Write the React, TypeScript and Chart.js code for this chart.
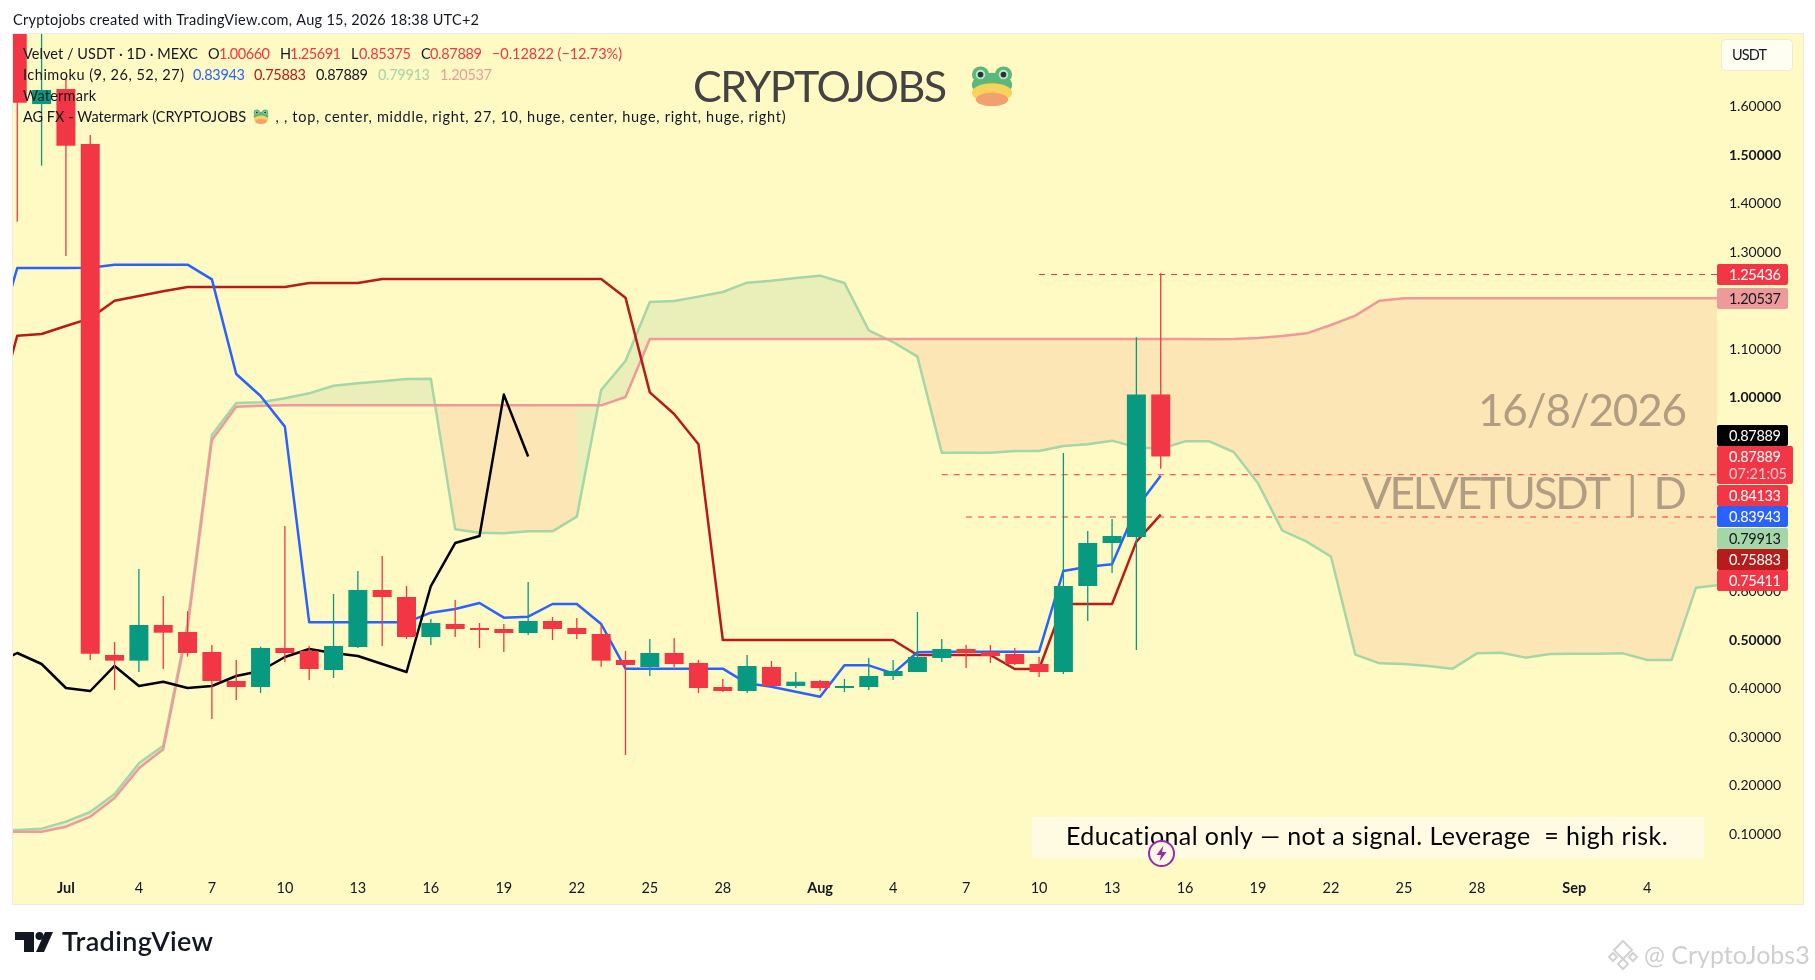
import React, { useEffect, useRef } from "react";
import { Chart, registerables } from "chart.js";

Chart.register(...registerables);

// ---------- data ----------
const CANDLE_START = -2; // day index relative to Jul 1
const opens = [1.95, 1.606, 1.637, 1.5236, 0.4694, 0.4577, 0.5313, 0.5168, 0.4756, 0.4157, 0.4034, 0.4838, 0.4776, 0.4384, 0.4859, 0.6035, 0.589, 0.5065, 0.5333, 0.5251, 0.523, 0.5147, 0.5395, 0.5251, 0.5127, 0.459, 0.4446, 0.4735, 0.4529, 0.4034, 0.3951, 0.4446, 0.4054, 0.4157, 0.4013, 0.4034, 0.426, 0.4343, 0.4632, 0.4817, 0.4756, 0.4714, 0.4508, 0.4343, 0.6117, 0.7004, 0.7128, 1.0066];
const highs = [2.0, 1.95, 1.6577, 1.5422, 0.4962, 0.6468, 0.5911, 0.5601, 0.49, 0.4591, 0.4866, 0.7355, 0.488, 0.5952, 0.6427, 0.6736, 0.6117, 0.5436, 0.5828, 0.5354, 0.5333, 0.62, 0.5478, 0.5457, 0.5313, 0.4776, 0.5024, 0.5044, 0.4591, 0.4199, 0.4694, 0.457, 0.4343, 0.4178, 0.4199, 0.4632, 0.4591, 0.5581, 0.5024, 0.49, 0.49, 0.4838, 0.4652, 0.8861, 0.7252, 0.7499, 1.1248, 1.25691];
const lows = [1.3633, 1.4789, 1.2925, 0.459, 0.3971, 0.4343, 0.4405, 0.4659, 0.3373, 0.3765, 0.391, 0.4549, 0.4178, 0.4219, 0.4838, 0.488, 0.5024, 0.49, 0.5065, 0.4838, 0.4756, 0.5106, 0.5003, 0.5024, 0.4453, 0.2631, 0.426, 0.4446, 0.391, 0.393, 0.391, 0.4054, 0.4013, 0.3951, 0.393, 0.3971, 0.4178, 0.4343, 0.4549, 0.4425, 0.4529, 0.4487, 0.424, 0.4302, 0.5395, 0.6385, 0.4797, 0.85375];
const closes = [1.6088, 1.635, 1.5201, 0.472, 0.4577, 0.5313, 0.5154, 0.4735, 0.4157, 0.4034, 0.4838, 0.4735, 0.4405, 0.488, 0.6035, 0.589, 0.5065, 0.5354, 0.523, 0.521, 0.5147, 0.5395, 0.523, 0.5127, 0.4577, 0.4487, 0.4735, 0.4508, 0.4013, 0.3951, 0.4467, 0.4054, 0.4143, 0.4013, 0.4054, 0.426, 0.4364, 0.4652, 0.4817, 0.4735, 0.4673, 0.4508, 0.4343, 0.6117, 0.7004, 0.7149, 1.0066, 0.87889];

const LINE_START = -3;
const tenkan = [1.095, 1.2678, 1.2678, 1.2678, 1.2685, 1.2747, 1.2747, 1.2747, 1.2747, 1.2444, 1.0491, 1.0037, 0.9405, 0.5368, 0.5368, 0.5368, 0.5368, 0.5368, 0.5567, 0.5643, 0.5766, 0.5464, 0.5485, 0.5746, 0.5746, 0.5333, 0.4412, 0.4412, 0.4412, 0.4412, 0.4412, 0.4109, 0.404, 0.3937, 0.3834, 0.448, 0.448, 0.4315, 0.4749, 0.4763, 0.4763, 0.4763, 0.4763, 0.4763, 0.6427, 0.6516, 0.6564, 0.7726, 0.83943];
const kijun = [0.944, 1.1282, 1.1316, 1.1481, 1.1639, 1.2004, 1.21, 1.2197, 1.2286, 1.2286, 1.2286, 1.2286, 1.2286, 1.2368, 1.2368, 1.2368, 1.2451, 1.2451, 1.2451, 1.2451, 1.2451, 1.2451, 1.2451, 1.2451, 1.2451, 1.2451, 1.2066, 1.0113, 0.9666, 0.904, 0.5003, 0.5003, 0.5003, 0.5003, 0.5003, 0.5003, 0.5003, 0.5003, 0.4694, 0.4694, 0.4694, 0.4694, 0.4405, 0.4405, 0.5746, 0.5746, 0.5746, 0.7032, 0.75883];
const chikou = [0.4487, 0.4735, 0.4508, 0.4013, 0.3951, 0.4467, 0.4054, 0.4143, 0.4013, 0.4054, 0.426, 0.4364, 0.4652, 0.4817, 0.4735, 0.4673, 0.4508, 0.4343, 0.6117, 0.7004, 0.7149, 1.0066, 0.87889];
const senkouA = [0.107, 0.1083, 0.1111, 0.1255, 0.1454, 0.1826, 0.2459, 0.2823, 0.535, 0.9233, 0.9893, 0.9907, 0.9989, 1.0092, 1.025, 1.0299, 1.034, 1.0388, 1.0395, 0.7286, 0.7217, 0.7204, 0.7245, 0.7245, 0.7548, 1.0161, 1.0759, 1.1977, 1.1997, 1.2087, 1.2183, 1.2375, 1.2417, 1.2472, 1.252, 1.2368, 1.1392, 1.1151, 1.0849, 0.8868, 0.8868, 0.8868, 0.8903, 0.8903, 0.9006, 0.904, 0.9116, 0.8978, 0.895, 0.9102, 0.9102, 0.8882, 0.8235, 0.7259, 0.7032, 0.6722, 0.4701, 0.4522, 0.4508, 0.4467, 0.4412, 0.4728, 0.4742, 0.4639, 0.4714, 0.4721, 0.4721, 0.4728, 0.4591, 0.4591, 0.6083, 0.6138];
const senkouB = [0.104, 0.1049, 0.1049, 0.1151, 0.1358, 0.1743, 0.2355, 0.2747, 0.525, 0.9129, 0.9817, 0.9838, 0.9845, 0.9845, 0.9845, 0.9845, 0.9845, 0.9845, 0.9845, 0.9845, 0.9845, 0.9845, 0.9845, 0.9845, 0.9845, 0.9845, 1.0017, 1.1213, 1.1213, 1.1213, 1.1213, 1.1213, 1.1213, 1.1213, 1.1213, 1.1213, 1.1213, 1.1213, 1.1213, 1.1213, 1.1213, 1.1213, 1.1213, 1.1213, 1.1213, 1.1213, 1.1213, 1.1213, 1.1213, 1.1213, 1.1206, 1.1213, 1.1234, 1.1275, 1.133, 1.1502, 1.1695, 1.2004, 1.20537, 1.20537, 1.20537, 1.20537, 1.20537, 1.20537, 1.20537, 1.20537, 1.20537, 1.20537, 1.20537, 1.20537, 1.20537, 1.20537];

const dashLevels = [1.25436, 0.84133, 0.75411];
const dashStartDays = [40, 36, 37];
const DASH_END = 68;

const xTickDays = [0, 3, 6, 9, 12, 15, 18, 21, 24, 27, 31, 34, 37, 40, 43, 46, 49, 52, 55, 58, 62, 65];
const xTickLabels = ["Jul", "4", "7", "10", "13", "16", "19", "22", "25", "28", "Aug", "4", "7", "10", "13", "16", "19", "22", "25", "28", "Sep", "4"];
const xBoldLabels = ["Jul", "Aug", "Sep"];
const yTickValues = [0.1, 0.2, 0.3, 0.4, 0.5, 0.6, 0.7, 0.8, 0.9, 1.0, 1.1, 1.2, 1.3, 1.4, 1.5, 1.6];
const yBoldValues = [0.5, 1.0, 1.5];

const tagTexts = ["1.25436", "1.20537", "0.87889", "0.84133", "0.83943", "0.79913", "0.75883", "0.75411"];
const tagBackgrounds = ["#F23645", "#EF9A9A", "#000000", "#F23645", "#2962FF", "#A5D6A7", "#B71C1C", "#F23645"];
const tagForegrounds = ["#FFFFFF", "#131722", "#FFFFFF", "#FFFFFF", "#FFFFFF", "#131722", "#FFFFFF", "#FFFFFF"];
const tagTops = [264, 288, 425, 485, 506, 528, 549, 570];

// ---------- style ----------
const UP = "#089981";
const DOWN = "#F23645";
const PAGE_BG = "#FFF9C4";
const FILL_UP = "#EAEFBA";
const FILL_DOWN = "#FDE6B5";
const FONT = "Lato, sans-serif";
const LEFT = 13;
const RIGHT = 1803;
const TOP = 34;
const BOTTOM = 904;

const pts = (arr: number[], start: number) => arr.map((y, i) => ({ x: start + i, y }));

function drawFrog(ctx: CanvasRenderingContext2D, cx: number, cy: number, s: number) {
  ctx.save();
  ctx.translate(cx, cy);
  ctx.scale(s / 46, s / 46);
  ctx.fillStyle = "#5CB87A";
  ctx.beginPath();
  ctx.ellipse(-12, -13, 9, 8.5, 0, 0, Math.PI * 2);
  ctx.ellipse(12, -13, 9, 8.5, 0, 0, Math.PI * 2);
  ctx.fill();
  ctx.beginPath();
  ctx.ellipse(0, -2, 21, 13, 0, 0, Math.PI * 2);
  ctx.fill();
  ctx.fillStyle = "#F7D35B";
  ctx.beginPath();
  ctx.ellipse(0, 6, 21, 10, 0, 0, Math.PI * 2);
  ctx.fill();
  ctx.fillStyle = "#F2A070";
  ctx.beginPath();
  ctx.ellipse(0, 13, 17, 7, 0, 0, Math.PI * 2);
  ctx.fill();
  ctx.fillStyle = "#BFE8C4";
  ctx.beginPath();
  ctx.arc(-12, -13, 5, 0, Math.PI * 2);
  ctx.arc(12, -13, 5, 0, Math.PI * 2);
  ctx.fill();
  ctx.fillStyle = "#26323A";
  ctx.beginPath();
  ctx.arc(-12, -13, 3, 0, Math.PI * 2);
  ctx.arc(12, -13, 3, 0, Math.PI * 2);
  ctx.fill();
  ctx.restore();
}

// draws one string; when a target width is given the letter spacing is set so the string spans it
function text(ctx: CanvasRenderingContext2D, t: string, x: number, y: number, font: string, color: string, width?: number, base: CanvasTextBaseline = "middle") {
  ctx.font = font;
  ctx.fillStyle = color;
  ctx.textAlign = "left";
  ctx.textBaseline = base;
  (ctx as any).letterSpacing = "0px";
  if (width) {
    const m = ctx.measureText(t).width;
    (ctx as any).letterSpacing = `${(width - m) / (t.length - 1)}px`;
  }
  ctx.fillText(t, x, y);
  (ctx as any).letterSpacing = "0px";
}

const backdrop = {
  id: "backdrop",
  beforeDraw(chart: any) {
    const c = chart.ctx as CanvasRenderingContext2D;
    c.save();
    c.fillStyle = "#FFFFFF";
    c.fillRect(0, 0, chart.width, chart.height);
    c.fillStyle = PAGE_BG;
    c.fillRect(LEFT, TOP, RIGHT - LEFT, BOTTOM - TOP);
    c.strokeStyle = "#ECECE4";
    c.lineWidth = 1;
    c.strokeRect(LEFT - 0.5, TOP - 0.5, RIGHT - LEFT + 1, BOTTOM - TOP + 1);
    c.restore();
  },
};

const overlay = {
  id: "overlay",
  afterDraw(chart: any) {
    const c = chart.ctx as CanvasRenderingContext2D;
    c.save();
    const f = `14.5px ${FONT}`;
    const dark = "#131722";
    text(c, "Cryptojobs created with TradingView.com, Aug 15, 2026 18:38 UTC+2", 13, 20, f, dark, 466);

    // legend
    const red = "#F23645";
    text(c, "Velvet / USDT · 1D · MEXC", 23, 54, f, dark, 175);
    text(c, "O", 208, 54, f, dark);
    text(c, "1.00660", 219, 54, f, red, 51);
    text(c, "H", 280, 54, f, dark);
    text(c, "1.25691", 290, 54, f, red, 51);
    text(c, "L", 351, 54, f, dark);
    text(c, "0.85375", 359, 54, f, red, 52);
    text(c, "C", 421, 54, f, dark);
    text(c, "0.87889", 430, 54, f, red, 52);
    text(c, "−0.12822 (−12.73%)", 492, 54, f, red, 130);
    text(c, "Ichimoku (9, 26, 52, 27)", 23, 75, f, dark, 161);
    text(c, "0.83943", 193, 75, f, "#2962FF", 52);
    text(c, "0.75883", 254, 75, f, "#B71C1C", 52);
    text(c, "0.87889", 316, 75, f, dark, 52);
    text(c, "0.79913", 378, 75, f, "#A5D6A7", 52);
    text(c, "1.20537", 440, 75, f, "#EF9A9A", 52);
    text(c, "Watermark", 23, 96, f, dark, 73);
    text(c, "AG FX - Watermark (CRYPTOJOBS", 23, 117, f, dark, 223);
    drawFrog(c, 261, 117, 16);
    text(c, ", , top, center, middle, right, 27, 10, huge, center, huge, right, huge, right)", 275.5, 117, f, dark, 510);

    // watermarks
    text(c, "CRYPTOJOBS", 693, 102, `43px ${FONT}`, "#434343", 254, "alphabetic");
    drawFrog(c, 992, 87, 44);
    text(c, "16/8/2026", 1478, 426, `44px ${FONT}`, "#B09D84", 209, "alphabetic");
    text(c, "VELVETUSDT  |  D", 1362, 509, `44px ${FONT}`, "#B09D84", 325, "alphabetic");

    // note box
    c.fillStyle = "#FFFBE3";
    c.fillRect(1032, 817, 672, 41);
    text(c, "Educational only — not a signal. Leverage  = high risk.", 1066, 845, `25px ${FONT}`, "#000000", 602, "alphabetic");

    // lightning marker
    c.beginPath();
    c.arc(1161.5, 853.5, 12.5, 0, Math.PI * 2);
    c.fillStyle = "#FFFBE3";
    c.fill();
    c.strokeStyle = "#9C27B0";
    c.lineWidth = 2;
    c.stroke();
    c.fillStyle = "#9C27B0";
    c.beginPath();
    c.moveTo(1163.5, 845.5);
    c.lineTo(1156.5, 855);
    c.lineTo(1161, 855);
    c.lineTo(1159.5, 861.5);
    c.lineTo(1166.5, 852);
    c.lineTo(1162, 852);
    c.closePath();
    c.fill();

    // USDT button
    c.fillStyle = "#FFFEF2";
    c.strokeStyle = "#EDEBD0";
    c.lineWidth = 1;
    c.beginPath();
    c.roundRect(1721.5, 39.5, 71, 31, 4);
    c.fill();
    c.stroke();
    text(c, "USDT", 1732, 55, f, dark, 35);

    // price tags
    tagTexts.forEach((t, i) => {
      const top = tagTops[i];
      c.fillStyle = tagBackgrounds[i];
      c.beginPath();
      c.roundRect(1717, top, 71, 21, 2);
      c.fill();
      text(c, t, 1729, top + 11, f, tagForegrounds[i], 52);
    });
    c.fillStyle = DOWN;
    c.beginPath();
    c.roundRect(1717, 446, 76, 38, 2);
    c.fill();
    text(c, "0.87889", 1729, 457, f, "#FFFFFF", 52);
    text(c, "07:21:05", 1729, 474, f, "rgba(255,255,255,0.75)", 58);

    // brand, bottom left
    c.fillStyle = "#131722";
    c.beginPath();
    c.moveTo(15, 932);
    c.lineTo(34, 932);
    c.lineTo(34, 952);
    c.lineTo(24, 952);
    c.lineTo(24, 940);
    c.lineTo(15, 940);
    c.closePath();
    c.fill();
    c.beginPath();
    c.arc(39.5, 936, 4, 0, Math.PI * 2);
    c.fill();
    c.beginPath();
    c.moveTo(45, 932);
    c.lineTo(53, 932);
    c.lineTo(44, 952);
    c.lineTo(36, 952);
    c.closePath();
    c.fill();
    text(c, "TradingView", 62, 951, `600 27px ${FONT}`, "#131722", 151, "alphabetic");

    // credit, bottom right
    c.strokeStyle = "#D2D2D2";
    c.lineWidth = 2;
    [[1623, 950, 9], [1613, 957, 4], [1633, 957, 4], [1623, 964, 5]].forEach(([x, y, r]) => {
      c.beginPath();
      c.moveTo(x, y - r);
      c.lineTo(x + r, y);
      c.lineTo(x, y + r);
      c.lineTo(x - r, y);
      c.closePath();
      c.stroke();
    });
    text(c, "@ CryptoJobs3", 1644, 956, `25px ${FONT}`, "#CFCFCF");
    c.restore();
  },
};

export default function App() {
  const ref = useRef<HTMLCanvasElement | null>(null);
  useEffect(() => {
    document.body.style.margin = "0";
    const lineDs = (data: any[], color: string, order: number, extra: any = {}) => ({
      type: "line",
      data,
      borderColor: color,
      borderWidth: 2.5,
      pointRadius: 0,
      tension: 0,
      borderJoinStyle: "round",
      order,
      ...extra,
    });
    const candleColors = closes.map((c, i) => (c >= opens[i] ? UP : DOWN));
    const A = pts(senkouA, LINE_START);
    const B = pts(senkouB, LINE_START);
    const datasets: any[] = [
      // 0: invisible reference for cloud bottom edge
      lineDs(B, "transparent", 14),
      // 1: cloud fill
      lineDs(A, "transparent", 13, { fill: { target: 0, above: FILL_UP, below: FILL_DOWN } }),
      // 2-3: cloud colour hand-over around the twist on Jul 22
      lineDs([A[24], A[25]], "transparent", 12.5),
      lineDs([B[24], B[25]], "transparent", 12, { fill: { target: 2, above: FILL_UP, below: FILL_UP } }),
      // 4-5: and the twist on Aug 3
      lineDs([A[36], A[37]], "transparent", 11.5),
      lineDs([B[36], B[37]], "transparent", 11, { fill: { target: 4, above: FILL_DOWN, below: FILL_DOWN } }),
      lineDs(A, "#A5D6A7", 10),
      lineDs(B, "#EF9A9A", 9),
      lineDs(pts(kijun, LINE_START), "#B71C1C", 7),
      lineDs(pts(tenkan, LINE_START), "#2962FF", 6),
      lineDs(pts(chikou, LINE_START), "#000000", 5),
      ...dashLevels.map((lv, i) =>
        lineDs([{ x: dashStartDays[i], y: lv }, { x: DASH_END, y: lv }], DOWN, 4, { borderWidth: 1, borderDash: [6, 6] })
      ),
      {
        type: "bar",
        data: closes.map((_, i) => ({ x: CANDLE_START + i, y: [lows[i], highs[i]] })),
        backgroundColor: candleColors,
        barThickness: 1.3,
        grouped: false,
        inflateAmount: 0,
        borderWidth: 0,
        order: 2,
      },
      {
        type: "bar",
        data: closes.map((c, i) => ({ x: CANDLE_START + i, y: [opens[i], c] })),
        backgroundColor: candleColors,
        barThickness: 19,
        grouped: false,
        inflateAmount: 0,
        borderWidth: 0,
        order: 1,
      },
    ];
    const chart = new Chart(ref.current as HTMLCanvasElement, {
      type: "bar",
      data: { datasets },
      plugins: [backdrop, overlay],
      options: {
        responsive: false,
        animation: false,
        events: [],
        layout: { padding: { left: 13, right: 12, top: 34, bottom: 76 } },
        plugins: { legend: { display: false }, tooltip: { enabled: false } },
        scales: {
          x: {
            type: "linear",
            offset: false,
            min: -2.175,
            max: 67.865,
            grid: { display: false, drawTicks: false, offset: false },
            border: { display: false },
            afterFit: (s: any) => { s.height = 33; },
            afterBuildTicks: (s: any) => { s.ticks = xTickDays.map((value) => ({ value })); },
            ticks: {
              autoSkip: false,
              maxRotation: 0,
              padding: 9,
              color: "#131722",
              callback: (v: any) => xTickLabels[xTickDays.indexOf(v)],
              font: (ctx: any) => {
                const l = xTickLabels[xTickDays.indexOf(ctx.tick?.value)];
                return { family: FONT, size: 14.5, weight: xBoldLabels.includes(l) ? "bold" : "normal" };
              },
            },
          },
          y: {
            type: "linear",
            position: "right",
            min: 0.02373,
            max: 1.75057,
            grid: { display: false, drawTicks: false },
            border: { display: false },
            afterFit: (s: any) => { s.width = 86; },
            afterBuildTicks: (s: any) => { s.ticks = yTickValues.map((value) => ({ value })); },
            ticks: {
              autoSkip: false,
              padding: 12,
              color: "#131722",
              callback: (v: any) => Number(v).toFixed(5),
              font: (ctx: any) => ({
                family: FONT,
                size: 14,
                weight: yBoldValues.includes(ctx.tick?.value) ? "bold" : "normal",
              }),
            },
          },
        },
      },
    } as any);
    return () => chart.destroy();
  }, []);
  return (
    <div style={{ position: "fixed", left: 0, top: 0, width: 1815, height: 980, background: "#FFFFFF" }}>
      <canvas ref={ref} width={1815} height={980} style={{ display: "block", width: 1815, height: 980 }} />
    </div>
  );
}
